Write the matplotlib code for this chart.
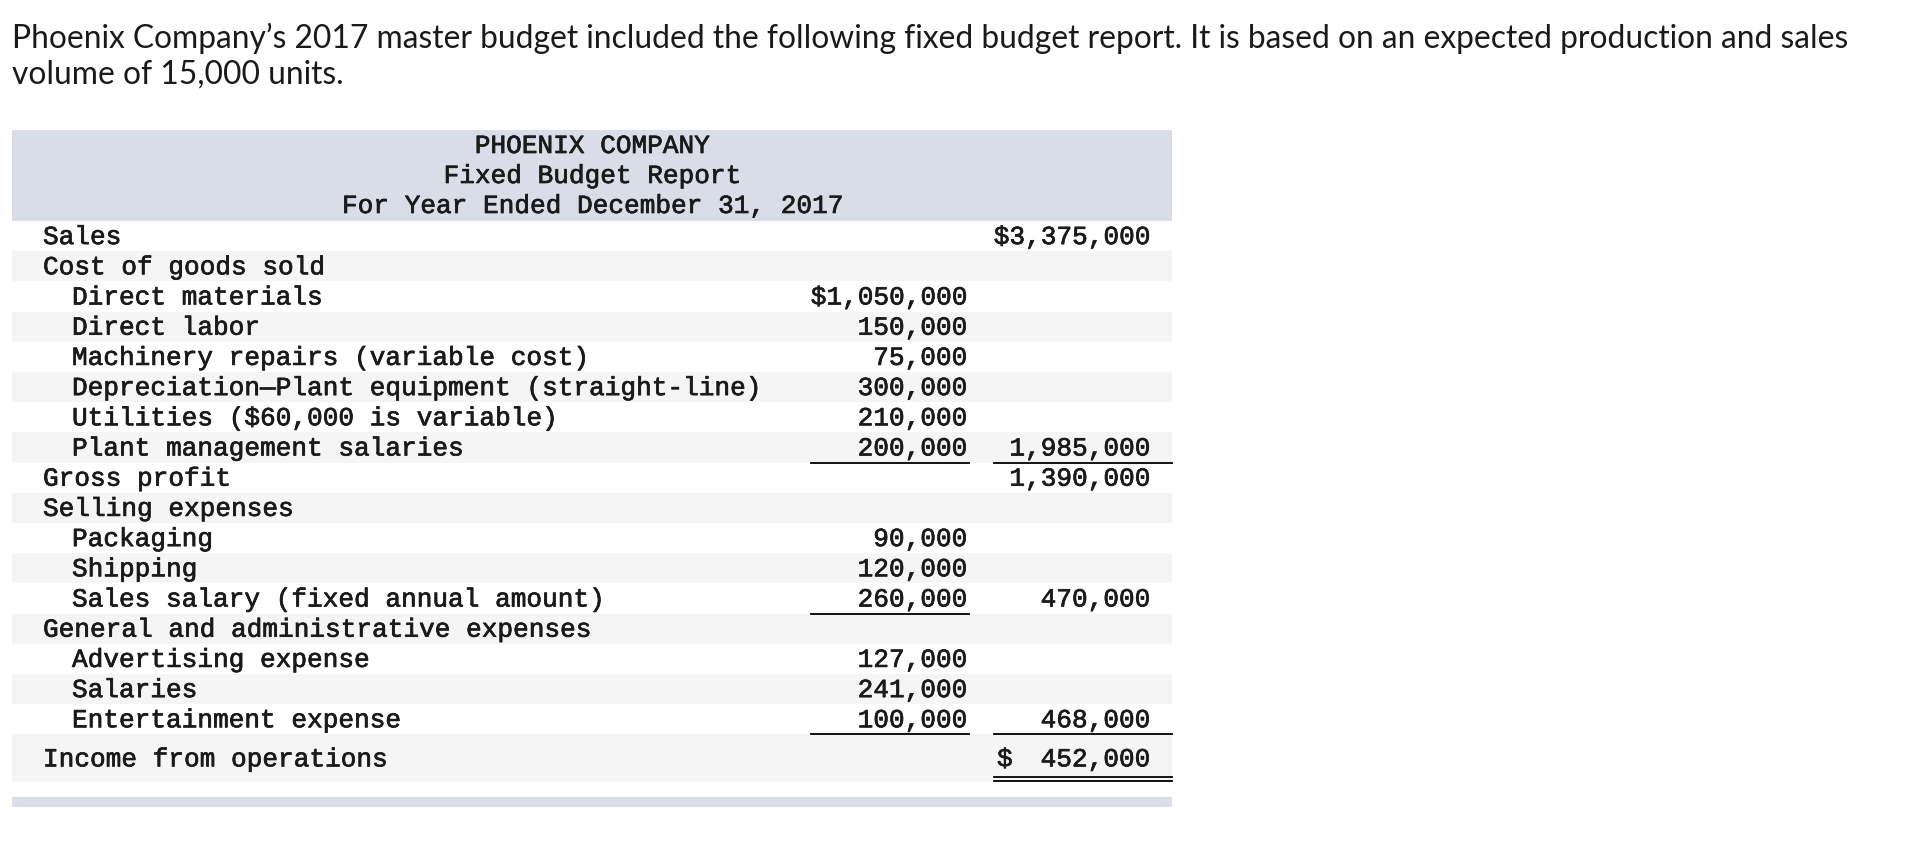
import matplotlib.pyplot as plt
import matplotlib.patheffects as pe
from matplotlib.patches import Rectangle

intro = ["Phoenix Company\u2019s 2017 master budget included the following fixed budget report. "
         "It is based on an expected production and sales",
         "volume of 15,000 units."]
header = ["PHOENIX COMPANY", "Fixed Budget Report", "For Year Ended December 31, 2017"]

labels = ["Sales", "Cost of goods sold", "Direct materials", "Direct labor",
          "Machinery repairs (variable cost)",
          "Depreciation\u2014Plant equipment (straight-line)",
          "Utilities ($60,000 is variable)", "Plant management salaries",
          "Gross profit", "Selling expenses", "Packaging", "Shipping",
          "Sales salary (fixed annual amount)", "General and administrative expenses",
          "Advertising expense", "Salaries", "Entertainment expense",
          "Income from operations"]
indent = [0, 0, 1, 1, 1, 1, 1, 1, 0, 0, 1, 1, 1, 0, 1, 1, 1, 0]
detail = [None, None, 1050000, 150000, 75000, 300000, 210000, 200000,
          None, None, 90000, 120000, 260000, None, 127000, 241000, 100000, None]
totals = [3375000, None, None, None, None, None, None, 1985000,
          1390000, None, None, None, 470000, None, None, None, 468000, 452000]
dollar_detail = [2]
dollar_total = [0]
dollar_split = [17]
underline_detail = [7, 12, 16]
underline_total = [7, 16]
double_total = [17]

W, H = 1922, 842
fig = plt.figure(figsize=(W / 100, H / 100), dpi=100)
ax = fig.add_axes([0, 0, 1, 1])
ax.set_xlim(0, W)
ax.set_ylim(H, 0)
ax.axis("off")

sans = ["Lato", "DejaVu Sans"]
mono = ["Liberation Mono", "DejaVu Sans Mono"]
blue = "#d9dde7"
grey = "#f5f5f5"
ink = "#1a1a1a"
thick = [pe.withStroke(linewidth=0.5, foreground=ink)]

ax.text(12, 38, intro[0], fontsize=22.9, family=sans, color=ink, va="center")
ax.text(12, 75, intro[1], fontsize=22.9, family=sans, color=ink, va="center")

left, right = 12, 1172
ax.add_patch(Rectangle((left, 130), right - left, 91, color=blue, lw=0))
for i, h in enumerate(header):
    ax.text((left + right) / 2, 146 + i * 30, h, fontsize=18.8, family=mono,
            ha="center", va="center", color=ink, path_effects=thick)

top0, rh = 221, 30.2
fs = 18.8
c1_right, c2_right = 967, 1150
for i, lab in enumerate(labels):
    top = top0 + i * rh
    h = 48 if i == len(labels) - 1 else rh
    if i % 2 == 1:
        ax.add_patch(Rectangle((left, top), right - left, h, color=grey, lw=0))
    yc = top + h / 2 + 1
    ax.text(43 + 29 * indent[i], yc, lab, fontsize=fs, family=mono,
            va="center", color=ink, path_effects=thick)
    if detail[i] is not None:
        s = f"{detail[i]:,}"
        if i in dollar_detail:
            s = "$" + s
        ax.text(c1_right, yc, s, fontsize=fs, family=mono, ha="right",
                va="center", color=ink, path_effects=thick)
    if totals[i] is not None:
        s = f"{totals[i]:,}"
        if i in dollar_total:
            s = "$" + s
        ax.text(c2_right, yc, s, fontsize=fs, family=mono, ha="right",
                va="center", color=ink, path_effects=thick)
        if i in dollar_split:
            ax.text(997, yc, "$", fontsize=fs, family=mono, va="center",
                    color=ink, path_effects=thick)
    bottom = top + h
    if i in underline_detail:
        ax.plot([811, 969], [bottom, bottom], color="black", lw=1.3)
    if i in underline_total:
        ax.plot([994, right], [bottom, bottom], color="black", lw=1.3)
    if i in double_total:
        ax.plot([994, right], [bottom - 5, bottom - 5], color="black", lw=1.3)
        ax.plot([994, right], [bottom - 1, bottom - 1], color="black", lw=1.3)

ax.add_patch(Rectangle((left, 797), right - left, 10, color=blue, lw=0))

fig.savefig("out.png", dpi=100)
